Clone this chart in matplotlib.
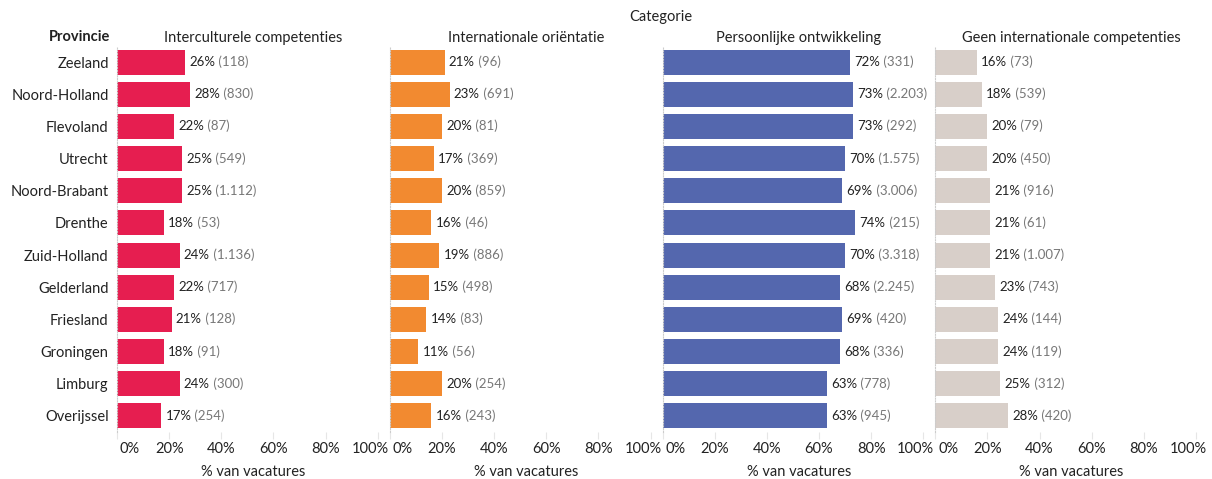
import matplotlib.pyplot as plt
from matplotlib.transforms import ScaledTranslation

provincies = ["Zeeland", "Noord-Holland", "Flevoland", "Utrecht", "Noord-Brabant",
              "Drenthe", "Zuid-Holland", "Gelderland", "Friesland", "Groningen",
              "Limburg", "Overijssel"]

categorieen = ["Interculturele competenties", "Internationale oriëntatie",
               "Persoonlijke ontwikkeling", "Geen internationale competenties"]

intercultureel_pct = [26, 28, 22, 25, 25, 18, 24, 22, 21, 18, 24, 17]
intercultureel_n = ["118", "830", "87", "549", "1.112", "53", "1.136", "717", "128", "91", "300", "254"]

internationaal_pct = [21, 23, 20, 17, 20, 16, 19, 15, 14, 11, 20, 16]
internationaal_n = ["96", "691", "81", "369", "859", "46", "886", "498", "83", "56", "254", "243"]

persoonlijk_pct = [72, 73, 73, 70, 69, 74, 70, 68, 69, 68, 63, 63]
persoonlijk_n = ["331", "2.203", "292", "1.575", "3.006", "215", "3.318", "2.245", "420", "336", "778", "945"]

geen_pct = [16, 18, 20, 20, 21, 21, 21, 23, 24, 24, 25, 28]
geen_n = ["73", "539", "79", "450", "916", "61", "1.007", "743", "144", "119", "312", "420"]

pct_series = [intercultureel_pct, internationaal_pct, persoonlijk_pct, geen_pct]
n_series = [intercultureel_n, internationaal_n, persoonlijk_n, geen_n]
kleuren = ["#E61E50", "#F28A30", "#5467AE", "#D8CFC9"]

plt.rcParams["font.family"] = ["Lato", "DejaVu Sans"]

fig = plt.figure(figsize=(12.12, 4.79), dpi=100)
left, right, bottom, top = 117 / 1212, 1208 / 1212, 1 - 432 / 479, 1 - 46 / 479
pw = (right - left) / 4
axes = [fig.add_axes([left + i * pw, bottom, pw, top - bottom]) for i in range(4)]

y = list(range(len(provincies)))
ticks = [0, 20, 40, 60, 80, 100]

for i, ax in enumerate(axes):
    ax.barh(y, pct_series[i], height=0.78, color=kleuren[i])
    ax.set_xlim(0, 104.6)
    ax.set_ylim(len(provincies) - 0.5, -0.5)
    for s in ["top", "right", "bottom"]:
        ax.spines[s].set_visible(False)
    ax.spines["left"].set_linestyle((0, (1, 1.5)))
    ax.spines["left"].set_color("#cccccc")
    ax.spines["left"].set_linewidth(0.8)
    ax.set_xticks(ticks)
    ax.set_xticklabels([f"{t}%" for t in ticks], fontsize=10.5, color="#222222")
    ax.tick_params(axis="x", length=5, color="#e6e6e6", pad=2)
    labs = ax.get_xticklabels()
    labs[0].set_horizontalalignment("left")
    labs[0].set_transform(labs[0].get_transform() + ScaledTranslation(3 / 100, 0, fig.dpi_scale_trans))
    labs[-1].set_horizontalalignment("right")
    labs[-1].set_transform(labs[-1].get_transform() + ScaledTranslation(11 / 100, 0, fig.dpi_scale_trans))
    ax.set_xlabel("% van vacatures", fontsize=10.5, color="#222222", labelpad=7)
    if i == 0:
        ax.set_yticks(y)
        ax.set_yticklabels(provincies, fontsize=10.5, color="#222222")
        ax.tick_params(axis="y", length=0, pad=6)
    else:
        ax.set_yticks([])
    ax.set_title(categorieen[i], fontsize=10.5, color="#222222", pad=3)
    for yi, (p, n) in enumerate(zip(pct_series[i], n_series[i])):
        t1 = ax.annotate(f"{p}%", xy=(p, yi), xytext=(3, 0), textcoords="offset points",
                         va="center", ha="left", fontsize=9.5, color="#222222")
        ax.annotate(f" ({n})", xy=(1, 0), xycoords=t1, va="bottom", ha="left",
                    fontsize=9.5, color="#777777")

fig.text(661 / 1212, 1 - 17 / 479, "Categorie", ha="center", va="center",
         fontsize=10.5, color="#222222")
fig.text(110 / 1212, 1 - 37 / 479, "Provincie", ha="right", va="center",
         fontsize=10.5, fontweight="bold", color="#222222")

fig.savefig("out.png", dpi=100)
